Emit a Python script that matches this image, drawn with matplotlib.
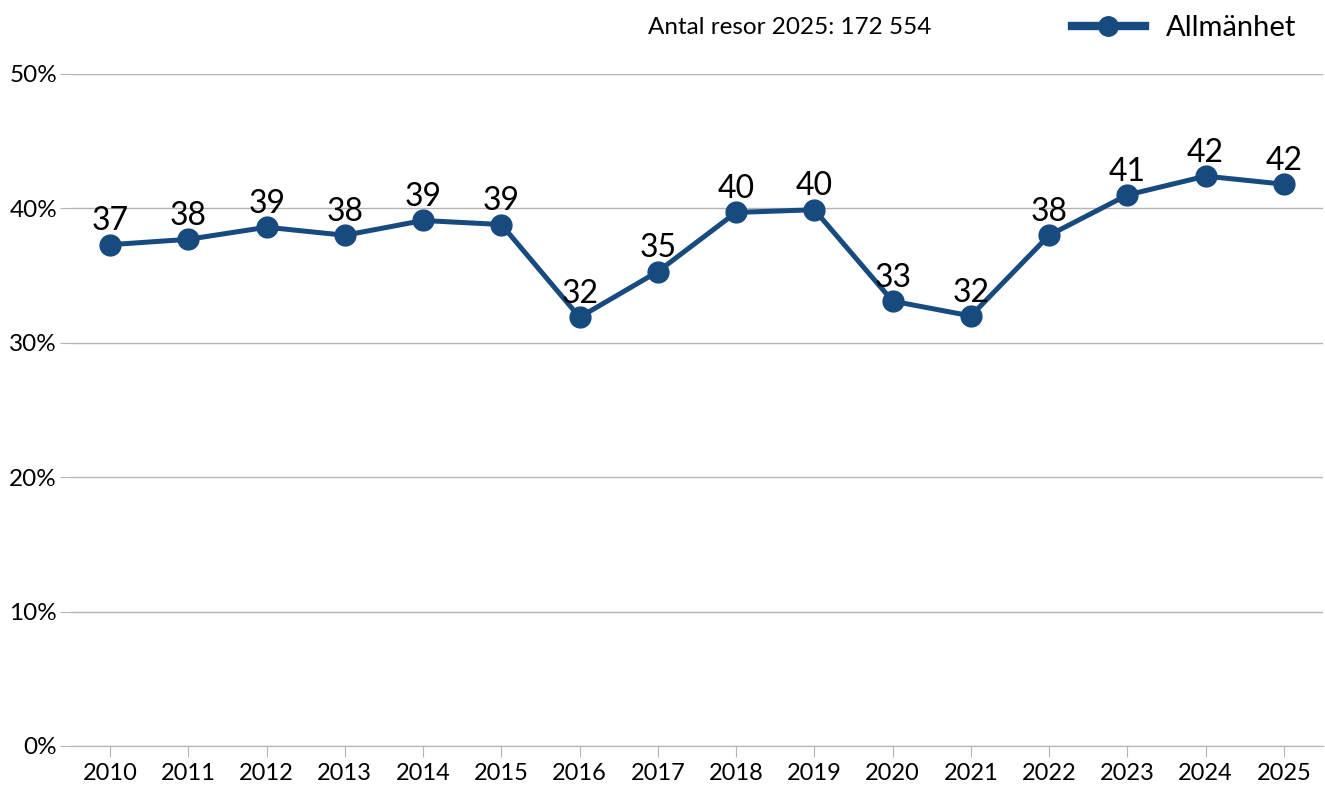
import matplotlib.pyplot as plt
from matplotlib.lines import Line2D
from matplotlib.ticker import FuncFormatter

years = [str(y) for y in range(2010, 2026)]
allmanhet = [37.3, 37.7, 38.6, 38.0, 39.1, 38.8, 31.9, 35.3, 39.7, 39.9,
             33.1, 32.0, 38.0, 41.0, 42.4, 41.8]
series_name = "Allmänhet"
note = "Antal resor 2025: 172 554"

blue = "#174a7e"
grid_col = "#b3b3b3"

plt.rcParams['font.family'] = ['Lato', 'DejaVu Sans']

fig = plt.figure(figsize=(13.25, 7.87), dpi=100)
ax = fig.add_axes([71 / 1325, 41 / 787, 1252 / 1325, 672 / 787])

x = list(range(len(years)))
ax.plot(x, allmanhet, color=blue, linewidth=3.6, marker='o', markersize=15,
        zorder=3)
for xi, v in zip(x, allmanhet):
    ax.annotate(str(round(v)), (xi, v), xytext=(0, 6), textcoords='offset points',
                ha='center', va='bottom', fontsize=23, color='black', zorder=4)

ax.set_xlim(-0.5, len(years) - 0.5)
ax.set_ylim(0, 50)
ax.set_xticks(x)
ax.set_xticklabels(years, fontsize=17)
ax.set_yticks([0, 10, 20, 30, 40, 50])
ax.yaxis.set_major_formatter(FuncFormatter(lambda v, p: f"{int(v)}%"))
ax.tick_params(axis='y', labelsize=17.5, length=8, color=grid_col, pad=2)
ax.tick_params(axis='x', length=8, color=grid_col, pad=4)
ax.grid(axis='y', color=grid_col, linewidth=1)
ax.set_axisbelow(True)
for s in ['top', 'right', 'left']:
    ax.spines[s].set_visible(False)
ax.spines['bottom'].set_color(grid_col)

fig.text(790 / 1325, 1 - 27 / 787, note, ha='center', va='center', fontsize=17.5)
handle = Line2D([], [], color=blue, linewidth=6, marker='o', markersize=14)
ax.legend([handle], [series_name], loc='center left',
          bbox_to_anchor=(1057 / 1325, 1 - 28 / 787),
          bbox_transform=fig.transFigure, frameon=False, fontsize=21,
          handlelength=2.5, handletextpad=0.75, borderpad=0)

fig.savefig("out.png", dpi=100)
